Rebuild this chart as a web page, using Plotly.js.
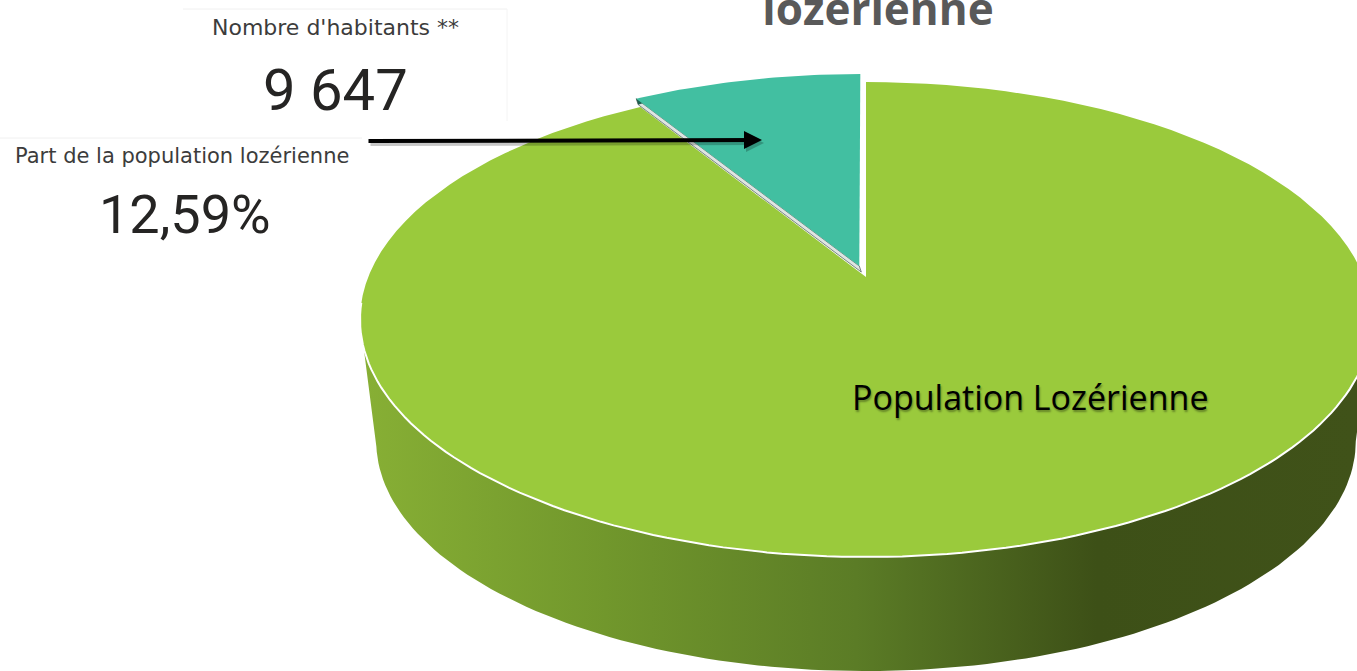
<!DOCTYPE html>
<html><head><meta charset="utf-8">
<script src="https://cdn.plot.ly/plotly-3.0.1.min.js"></script>
<style>html,body{margin:0;padding:0;background:#fff;overflow:hidden}#chart{width:1357px;height:671px}</style>
</head><body><div id="chart"></div>
<script>
// ---- data ----
const categories = ["Territoire", "Population Lozérienne"];
const sliceShares = [8.75, 91.25];          // share of the pie (%)
const sliceColors = ["#42BFA1", "#9ACA3C"];
const kpiLabels = ["Nombre d'habitants **", "Part de la population lozérienne"];
const habitants = 9647;
const partPct = 12.59;
const titleText = "lozérienne";

// ---- geometry (pixel space) ----
const W = 1357, H = 671;
const CX = 866, AY = 277, A = 497.8, B = 229.9, K = 0.179, DEPTH = 123, BS = 0.968;
function proj(sx, sy, face) {
  const s = face ? BS : 1;
  const d = 1 - K * sy;
  return [CX + A * s * sx / d, AY + (face ? DEPTH : 0) + B * s * sy / d];
}
function arc(phi1, phi2, face, off, n) {
  const xs = [], ys = [];
  n = n || 120;
  for (let i = 0; i <= n; i++) {
    const p = (phi1 + (phi2 - phi1) * i / n) * Math.PI / 180;
    const q = proj(Math.sin(p) + off[0], -Math.cos(p) + off[1], face);
    xs.push(q[0]); ys.push(q[1]);
  }
  return [xs, ys];
}
const total = sliceShares.reduce((a, b) => a + b, 0);
const tealDeg = sliceShares[0] / total * 360;
const EXPL = 0.05;
const bis = -tealDeg / 2 * Math.PI / 180;
const tealOff = [EXPL * Math.sin(bis), -EXPL * Math.cos(bis)];
const noOff = [0, 0];

const traces = [];
// side of the cylinder (front part between widest points)
const wideDeg = Math.acos(-K) * 180 / Math.PI;
const sideTop = arc(wideDeg, 360 - wideDeg, 0, noOff);
const sideBot = arc(360 - wideDeg, wideDeg, 1, noOff);
traces.push({
  type: 'scatter', mode: 'lines', hoverinfo: 'skip',
  x: sideTop[0].concat(sideBot[0]), y: sideTop[1].concat(sideBot[1]),
  fill: 'toself', line: {width: 0, color: 'rgba(0,0,0,0)'},
  fillgradient: {type: 'horizontal', start: 355, stop: 1357,
    colorscale: [[0, '#88B035'], [0.25, '#71972C'], [0.5, '#5B7C26'], [0.74, '#3D5017'], [1, '#405219']]}
});
// green slice (top face)
const ap0 = proj(0, 0, 0);
const g = arc(0, 360 - tealDeg, 0, noOff);
traces.push({
  type: 'scatter', mode: 'lines', hoverinfo: 'skip', name: categories[1],
  x: [ap0[0]].concat(g[0], [ap0[0]]), y: [ap0[1]].concat(g[1], [ap0[1]]),
  fill: 'toself', fillcolor: sliceColors[1], line: {width: 0, color: sliceColors[1]}
});
// white rim on front edge
const rim = arc(wideDeg - 8, 360 - wideDeg + 4, 0, noOff);
traces.push({type: 'scatter', mode: 'lines', hoverinfo: 'skip', x: rim[0], y: rim[1],
  line: {color: '#ffffff', width: 2}});
// teal slice (exploded)
const apT = proj(tealOff[0], tealOff[1], 0);
const cT = proj(Math.sin(-tealDeg * Math.PI / 180) + tealOff[0], -Math.cos(-tealDeg * Math.PI / 180) + tealOff[1], 0);
// thin radial face of the teal slice
traces.push({type: 'scatter', mode: 'lines', hoverinfo: 'skip',
  x: [apT[0], cT[0], cT[0] + 2, apT[0] + 2, apT[0]], y: [apT[1], cT[1], cT[1] + 6, apT[1] + 6, apT[1]],
  fill: 'toself', fillcolor: '#dfe5e2', line: {color: '#5a6863', width: 0.8}});
traces.push({type: 'scatter', mode: 'lines', hoverinfo: 'skip',
  x: [cT[0], cT[0] + 2, cT[0] + 8, cT[0]], y: [cT[1], cT[1] + 6, cT[1] + 4, cT[1]],
  fill: 'toself', fillcolor: '#1F5E4E', line: {width: 0}});
const t = arc(-tealDeg, 0, 0, tealOff, 40);
traces.push({
  type: 'scatter', mode: 'lines', hoverinfo: 'skip', name: categories[0],
  x: [apT[0]].concat(t[0], [apT[0]]), y: [apT[1]].concat(t[1], [apT[1]]),
  fill: 'toself', fillcolor: sliceColors[0], line: {width: 0, color: sliceColors[0]}
});

const fmtInt = n => String(n).replace(/\B(?=(\d{3})+(?!\d))/g, ' ');
const fmtPct = p => p.toFixed(2).replace('.', ',') + '%';
const labelFont = '"DejaVu Sans", Roboto, sans-serif';
const kpiFont = 'Roboto, "DejaVu Sans", sans-serif';

const annotations = [
  {x: 335.5, y: 27.3, text: kpiLabels[0], showarrow: false, xanchor: 'center', yanchor: 'middle',
   font: {family: labelFont, size: 22, color: '#3c3c3c'}},
  {x: 335, y: 89.7, text: fmtInt(habitants), showarrow: false, xanchor: 'center', yanchor: 'middle',
   font: {family: kpiFont, size: 58, color: '#252423'}},
  {x: 181.5, y: 155.6, text: kpiLabels[1], showarrow: false, xanchor: 'center', yanchor: 'middle',
   font: {family: labelFont, size: 21, color: '#3c3c3c'}},
  {x: 184.5, y: 214, text: fmtPct(partPct), showarrow: false, xanchor: 'center', yanchor: 'middle',
   font: {family: kpiFont, size: 54, color: '#252423'}},
  {x: 1029.5, y: 397, text: categories[1], showarrow: false, xanchor: 'center', yanchor: 'middle',
   font: {family: '"Open Sans", sans-serif', size: 34, color: '#000000', shadow: '1px 2px 2px rgba(0,0,0,0.35)'}},
  // arrow shadow + arrow
  {x: 764, y: 143, ax: 369, ay: 144, axref: 'x', ayref: 'y', xref: 'x', yref: 'y', text: '', showarrow: true,
   arrowhead: 2, arrowsize: 0.9, arrowwidth: 4, arrowcolor: 'rgba(0,0,0,0.22)', standoff: 0},
  {x: 762, y: 140, ax: 367, ay: 141, axref: 'x', ayref: 'y', xref: 'x', yref: 'y', text: '', showarrow: true,
   arrowhead: 2, arrowsize: 0.9, arrowwidth: 4, arrowcolor: '#000000', standoff: 0}
];

const layout = {
  width: W, height: H, margin: {l: 0, r: 0, t: 0, b: 0},
  paper_bgcolor: '#ffffff', plot_bgcolor: '#ffffff', showlegend: false,
  title: {text: titleText, x: 878 / W, xanchor: 'center', y: 1 - 10 / H, yanchor: 'middle', yref: 'container',
    font: {family: '"Open Sans", sans-serif', size: 44, weight: 700, color: '#595959'}},
  xaxis: {range: [0, W], visible: false, fixedrange: true},
  yaxis: {range: [H, 0], visible: false, fixedrange: true},
  shapes: [
    {type: 'line', xref: 'x', yref: 'y', x0: 183, y0: 9, x1: 507, y1: 9, line: {color: '#f0f0f0', width: 1}, layer: 'below'},
    {type: 'line', xref: 'x', yref: 'y', x0: 507, y0: 9, x1: 507, y1: 121, line: {color: '#f4f4f4', width: 1}, layer: 'below'},
    {type: 'line', xref: 'x', yref: 'y', x0: 0, y0: 138, x1: 362, y1: 138, line: {color: '#f0f0f0', width: 1}, layer: 'below'}
  ],
  annotations: annotations
};
Plotly.newPlot('chart', traces, layout, {displayModeBar: false, staticPlot: true});
</script>
</body></html>
